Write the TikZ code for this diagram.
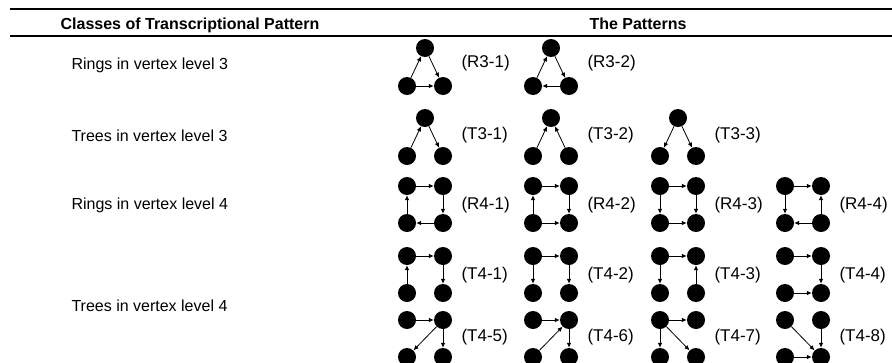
\documentclass[tikz,border=0pt]{standalone}
\usepackage{fontspec}
\setmainfont{Liberation Sans}
\usetikzlibrary{arrows.meta}

% three vertices: name, left x, top y
\newcommand{\trinodes}[3]{%
  \node[vtx] (#1t) at (#2+18,#3) {};
  \node[vtx] (#1l) at (#2,#3+38) {};
  \node[vtx] (#1r) at (#2+36,#3+38) {};}
% four vertices: name, left x, top y
\newcommand{\quadnodes}[3]{%
  \node[vtx] (#1a) at (#2,#3) {};
  \node[vtx] (#1b) at (#2+36,#3) {};
  \node[vtx] (#1c) at (#2,#3+37) {};
  \node[vtx] (#1d) at (#2+36,#3+37) {};}

\begin{document}
\begin{tikzpicture}[x=1pt,y=-1pt,
  vtx/.style={circle,fill=black,inner sep=0pt,minimum size=18pt},
  edge/.style={-{Latex[length=5pt,width=4.5pt]},line width=0.8pt},
  lbl/.style={anchor=west,font=\fontsize{17}{20}\selectfont},
  cls/.style={anchor=west,font=\fontsize{16}{19}\selectfont},
  head/.style={anchor=base,font=\fontsize{16}{19}\selectfont\bfseries}]
\clip (0,0) rectangle (892,362);

% table rules and headings
\coordinate (ruleA) at (10,9);
\coordinate (ruleB) at (892,9);
\coordinate (ruleC) at (10,36);
\coordinate (ruleD) at (892,36);
\draw[line width=1.5pt] (ruleA) -- (ruleB);
\draw[line width=1.2pt] (ruleC) -- (ruleD);
\node[head] (hclass) at (190,29) {Classes of Transcriptional Pattern};
\node[head] (hpat) at (638,29) {The Patterns};

% classes
\node[cls] (c1) at (68,65) {Rings in vertex level 3};
\node[cls] (c2) at (68,136) {Trees in vertex level 3};
\node[cls] (c3) at (68,205) {Rings in vertex level 4};
\node[cls] (c4) at (68,306) {Trees in vertex level 4};

% rings, level 3
\trinodes{ra}{407}{48}
\draw[edge] (ral) -- (rat);
\draw[edge] (rat) -- (rar);
\draw[edge] (ral) -- (rar);
\node[lbl] (ralab) at (458,63) {(R3-1)};
\trinodes{rb}{533}{48}
\draw[edge] (rbl) -- (rbt);
\draw[edge] (rbt) -- (rbr);
\draw[edge] (rbr) -- (rbl);
\node[lbl] (rblab) at (584,63) {(R3-2)};

% trees, level 3
\trinodes{ta}{407}{118}
\draw[edge] (tal) -- (tat);
\draw[edge] (tat) -- (tar);
\node[lbl] (talab) at (458,135) {(T3-1)};
\trinodes{tb}{533}{118}
\draw[edge] (tbl) -- (tbt);
\draw[edge] (tbr) -- (tbt);
\node[lbl] (tblab) at (584,135) {(T3-2)};
\trinodes{tc}{660}{118}
\draw[edge] (tct) -- (tcl);
\draw[edge] (tct) -- (tcr);
\node[lbl] (tclab) at (711,135) {(T3-3)};

% rings, level 4
\quadnodes{qa}{407}{186}
\draw[edge] (qaa) -- (qab);
\draw[edge] (qab) -- (qad);
\draw[edge] (qad) -- (qac);
\draw[edge] (qac) -- (qaa);
\node[lbl] (qalab) at (458,205) {(R4-1)};
\quadnodes{qb}{533}{186}
\draw[edge] (qbc) -- (qba);
\draw[edge] (qba) -- (qbb);
\draw[edge] (qbb) -- (qbd);
\draw[edge] (qbc) -- (qbd);
\node[lbl] (qblab) at (584,205) {(R4-2)};
\quadnodes{qc}{660}{186}
\draw[edge] (qca) -- (qcb);
\draw[edge] (qca) -- (qcc);
\draw[edge] (qcb) -- (qcd);
\draw[edge] (qcc) -- (qcd);
\node[lbl] (qclab) at (711,205) {(R4-3)};
\quadnodes{qd}{785}{186}
\draw[edge] (qda) -- (qdb);
\draw[edge] (qda) -- (qdc);
\draw[edge] (qdd) -- (qdb);
\draw[edge] (qdd) -- (qdc);
\node[lbl] (qdlab) at (836,205) {(R4-4)};

% trees, level 4
\quadnodes{pa}{407}{256}
\draw[edge] (pac) -- (paa);
\draw[edge] (paa) -- (pab);
\draw[edge] (pab) -- (pad);
\node[lbl] (palab) at (458,275) {(T4-1)};
\quadnodes{pb}{533}{256}
\draw[edge] (pba) -- (pbb);
\draw[edge] (pba) -- (pbc);
\draw[edge] (pbb) -- (pbd);
\node[lbl] (pblab) at (584,275) {(T4-2)};
\quadnodes{pc}{660}{256}
\draw[edge] (pca) -- (pcb);
\draw[edge] (pca) -- (pcc);
\draw[edge] (pcd) -- (pcb);
\node[lbl] (pclab) at (711,275) {(T4-3)};
\quadnodes{pd}{785}{256}
\draw[edge] (pda) -- (pdb);
\draw[edge] (pdb) -- (pdd);
\draw[edge] (pdc) -- (pdd);
\node[lbl] (pdlab) at (836,275) {(T4-4)};

\quadnodes{pe}{407}{320}
\draw[edge] (pea) -- (peb);
\draw[edge] (peb) -- (pec);
\draw[edge] (peb) -- (ped);
\node[lbl] (pelab) at (458,337) {(T4-5)};
\quadnodes{pf}{533}{320}
\draw[edge] (pfa) -- (pfb);
\draw[edge] (pfc) -- (pfb);
\draw[edge] (pfb) -- (pfd);
\node[lbl] (pflab) at (584,337) {(T4-6)};
\quadnodes{pg}{660}{320}
\draw[edge] (pga) -- (pgb);
\draw[edge] (pga) -- (pgc);
\draw[edge] (pga) -- (pgd);
\node[lbl] (pglab) at (711,337) {(T4-7)};
\quadnodes{ph}{785}{320}
\draw[edge] (pha) -- (phd);
\draw[edge] (phb) -- (phd);
\draw[edge] (phc) -- (phd);
\node[lbl] (phlab) at (836,337) {(T4-8)};
\end{tikzpicture}
\end{document}
